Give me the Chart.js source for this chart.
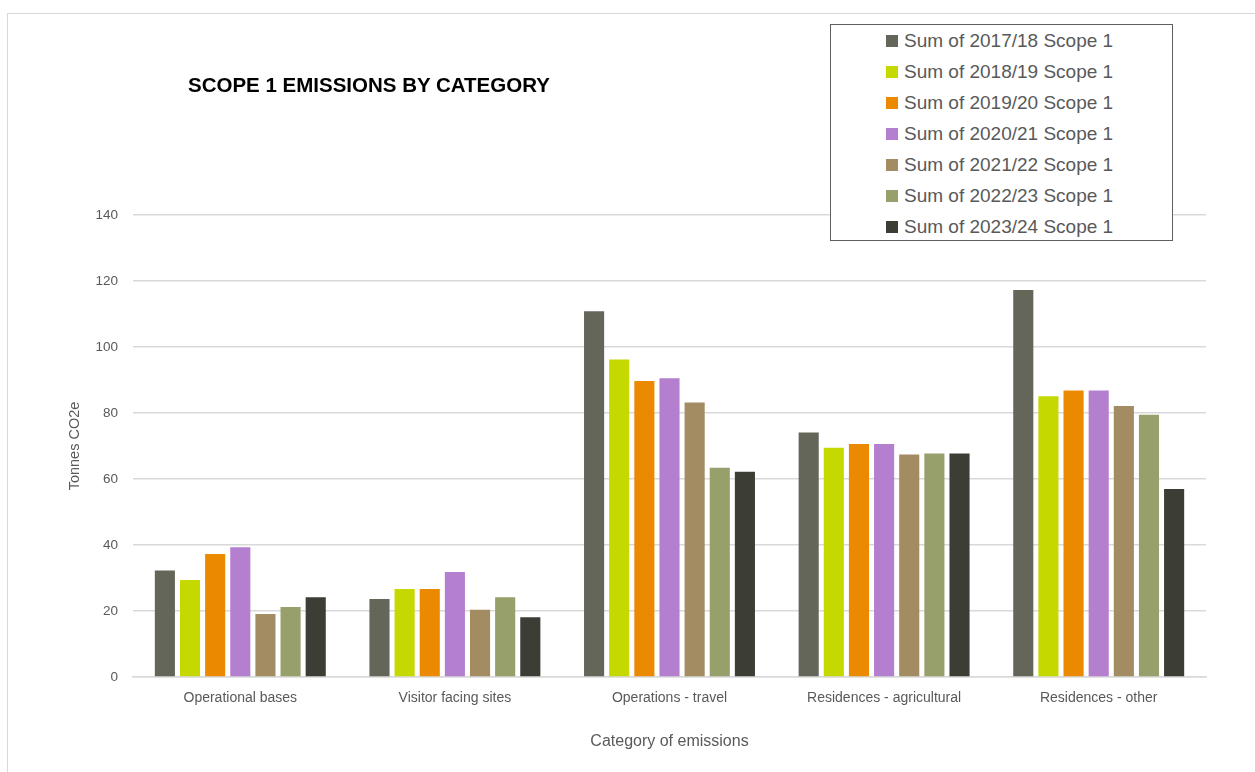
<!DOCTYPE html>
<html>
<head>
<meta charset="utf-8">
<script src="https://cdn.jsdelivr.net/npm/chart.js@4/dist/chart.umd.min.js"></script>
<style>
  html, body { margin: 0; padding: 0; background: #fff; }
  body { width: 1255px; height: 772px; position: relative; overflow: hidden; font-family: "Liberation Sans", Arial, sans-serif; }
  #frame { position: absolute; left: 7px; top: 13px; width: 1300px; height: 800px; border-left: 1px solid #d9d9d9; border-top: 1px solid #d9d9d9; }
  #chart { position: absolute; left: 0; top: 0; }
  #title { position: absolute; left: 188px; top: 73px; font-size: 20.5px; font-weight: bold; color: #000; white-space: nowrap; }
  #legend { position: absolute; left: 830px; top: 24px; width: 341px; height: 215px; border: 1.5px solid #5f5f5f; background: #fff; }
  #legend .row { position: absolute; left: 55px; height: 22px; display: flex; align-items: center; white-space: nowrap; font-size: 19px; color: #595959; }
  #legend .sw { width: 12px; height: 12px; margin-right: 6px; }
</style>
</head>
<body>
<div id="frame"></div>
<canvas id="chart" width="1255" height="772"></canvas>
<div id="title">SCOPE 1 EMISSIONS BY CATEGORY</div>
<div id="legend"></div>
<script>
const $ = (id) => document.getElementById(id);

// Categories on the x axis
const categories = ['Operational bases', 'Visitor facing sites', 'Operations - travel', 'Residences - agricultural', 'Residences - other'];

// Series names (one per year)
const seriesLabels = [
    'Sum of 2017/18 Scope 1',
    'Sum of 2018/19 Scope 1',
    'Sum of 2019/20 Scope 1',
    'Sum of 2020/21 Scope 1',
    'Sum of 2021/22 Scope 1',
    'Sum of 2022/23 Scope 1',
    'Sum of 2023/24 Scope 1'
];

// Values, tonnes CO2e
const values1718 = [32.3, 23.6, 110.8, 74.1, 117.3];
const values1819 = [29.4, 26.7, 96.2, 69.5, 85.1];
const values1920 = [37.3, 26.7, 89.7, 70.6, 86.8];
const values2021 = [39.3, 31.8, 90.5, 70.6, 86.8];
const values2122 = [19.1, 20.4, 83.2, 67.4, 82.1];
const values2223 = [21.2, 24.2, 63.4, 67.7, 79.5];
const values2324 = [24.2, 18.1, 62.2, 67.7, 57.0];

// y axis range
const yMin = 0;
const yMax = 140;
const yStep = 20;

const seriesValues = [values1718, values1819, values1920, values2021, values2122, values2223, values2324];
const seriesColors = ['#65665a', '#c5d800', '#eb8a00', '#b57fd0', '#a38b62', '#979f6a', '#3c3d35'];

const tickColor = '#595959';
const gridColor = '#d9d9d9';

// Build legend box
const legend = $('legend');
seriesLabels.forEach((label, i) => {
    const row = document.createElement('div');
    row.className = 'row';
    row.style.top = (5 + i * 31) + 'px';
    const sw = document.createElement('span');
    sw.className = 'sw';
    sw.style.background = seriesColors[i];
    const txt = document.createElement('span');
    txt.textContent = label;
    row.appendChild(sw);
    row.appendChild(txt);
    legend.appendChild(row);
});

const datasets = seriesLabels.map((label, i) => ({
    label,
    data: seriesValues[i],
    backgroundColor: seriesColors[i],
    borderWidth: 0,
    barPercentage: 0.8,
    categoryPercentage: 0.82
}));

new Chart($('chart').getContext('2d'), {
    type: 'bar',
    data: { labels: categories, datasets },
    options: {
        responsive: false,
        animation: false,
        events: [],
        layout: { padding: { left: 55, right: 49, top: 215, bottom: 0 } },
        plugins: {
            legend: { display: false },
            title: { display: false },
            tooltip: { enabled: false }
        },
        scales: {
            x: {
                grid: { display: false, drawTicks: false },
                border: { display: true, color: gridColor, width: 1.5 },
                ticks: { color: tickColor, font: { family: 'Liberation Sans', size: 14 }, padding: 13, maxRotation: 0 },
                title: { display: true, text: 'Category of emissions', color: tickColor, font: { family: 'Liberation Sans', size: 16 }, padding: { bottom: 21 } },
                afterFit: (s) => { s.height = 95; }
            },
            y: {
                min: yMin,
                max: yMax,
                grid: { color: gridColor, lineWidth: 1.5, drawTicks: false },
                border: { display: false },
                ticks: { stepSize: yStep, color: tickColor, font: { family: 'Liberation Sans', size: 13.5 }, padding: 15 },
                title: { display: true, text: 'Tonnes CO2e', color: tickColor, font: { family: 'Liberation Sans', size: 14.5 }, padding: { top: 11 } },
                afterFit: (s) => { s.width = 78; }
            }
        }
    }
});
</script>
</body>
</html>
